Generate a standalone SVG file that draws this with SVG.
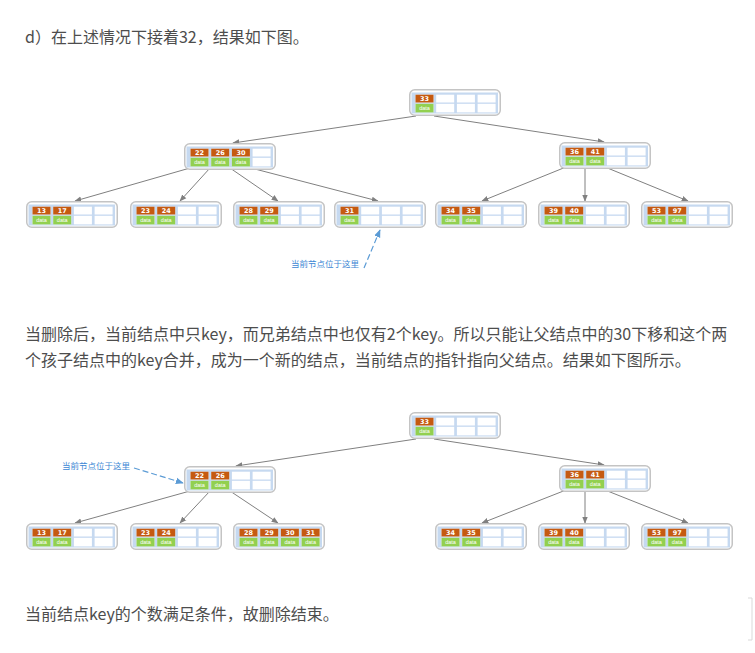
<svg xmlns="http://www.w3.org/2000/svg" xmlns:xlink="http://www.w3.org/1999/xlink" width="755" height="653" viewBox="0 0 755 653">
<style>
.p{font-family:"Noto Sans CJK SC","Liberation Sans",sans-serif;font-size:16px;fill:#4d4d4d}
.k{fill:#c55a11}
.d{fill:#92d050}
.kt{font-family:"DejaVu Sans",sans-serif;font-size:6.5px;font-weight:bold;fill:#fff;text-anchor:middle}
.dt{font-family:"Liberation Sans",sans-serif;font-size:5.5px;fill:#fff;text-anchor:middle}
.c{stroke:#808080;stroke-width:1;fill:none;marker-end:url(#ah)}
.an{font-family:"Noto Sans CJK SC",sans-serif;font-size:8.5px;fill:#3b86d4}
.dash{stroke:#5b9bd5;stroke-width:1.2;stroke-dasharray:6 3;fill:none;marker-end:url(#bh)}
</style>
<defs>
<marker id="ah" viewBox="0 0 10 10" refX="9" refY="5" markerWidth="7" markerHeight="7" orient="auto" markerUnits="userSpaceOnUse">
<path d="M0,1 L10,5 L0,9 z" fill="#808080"/>
</marker>
<marker id="bh" viewBox="0 0 10 10" refX="9" refY="5" markerWidth="8" markerHeight="8" orient="auto" markerUnits="userSpaceOnUse">
<path d="M0,1 L10,5 L0,9 z" fill="#5b9bd5"/>
</marker>
<g id="base">
<rect x="0.75" y="0.75" width="90.5" height="25.5" rx="5" fill="#fff" stroke="#c4c4c4" stroke-width="1.5"/>
<rect x="2.5" y="3.5" width="86.5" height="21" fill="#c6d9f0"/>
<g fill="#fff">
<rect x="6.5" y="5.7" width="18" height="7.8"/><rect x="6.5" y="14.8" width="18" height="8.6"/>
<rect x="27.2" y="5.7" width="18" height="7.8"/><rect x="27.2" y="14.8" width="18" height="8.6"/>
<rect x="47.9" y="5.7" width="18" height="7.8"/><rect x="47.9" y="14.8" width="18" height="8.6"/>
<rect x="68.6" y="5.7" width="18" height="7.8"/><rect x="68.6" y="14.8" width="18" height="8.6"/>
</g>
</g>
<g id="s0"><rect class="k" x="6.5" y="5.7" width="18" height="7.8"/><rect class="d" x="6.5" y="14.8" width="18" height="8.6"/><text class="dt" x="15.5" y="21.2">data</text></g>
<g id="s1"><rect class="k" x="27.2" y="5.7" width="18" height="7.8"/><rect class="d" x="27.2" y="14.8" width="18" height="8.6"/><text class="dt" x="36.2" y="21.2">data</text></g>
<g id="s2"><rect class="k" x="47.9" y="5.7" width="18" height="7.8"/><rect class="d" x="47.9" y="14.8" width="18" height="8.6"/><text class="dt" x="56.9" y="21.2">data</text></g>
<g id="s3"><rect class="k" x="68.6" y="5.7" width="18" height="7.8"/><rect class="d" x="68.6" y="14.8" width="18" height="8.6"/><text class="dt" x="77.6" y="21.2">data</text></g>
</defs>
<rect width="755" height="653" fill="#fff"/>

<text class="p" x="25" y="43">d）在上述情况下接着32，结果如下图。</text>

<!-- Tree 1 connectors -->
<g id="connectors1">
<line class="c" x1="416" y1="116" x2="233" y2="143"/>
<line class="c" x1="434" y1="116" x2="604" y2="142"/>
<line class="c" x1="190" y1="168" x2="75" y2="201"/>
<line class="c" x1="210" y1="168" x2="180" y2="201"/>
<line class="c" x1="230" y1="168" x2="278" y2="201"/>
<line class="c" x1="251" y1="168" x2="378" y2="201"/>
<line class="c" x1="566" y1="167" x2="482" y2="201"/>
<line class="c" x1="585" y1="167" x2="585" y2="201"/>
<line class="c" x1="605" y1="167" x2="688" y2="201"/>
</g>

<!-- Tree 1 nodes -->
<g id="t1-root" transform="translate(409,89)"><use href="#base"/><use href="#s0"/><text class="kt" x="15.5" y="12">33</text></g>
<g id="t1-n22" transform="translate(184,143)"><use href="#base"/><use href="#s0"/><use href="#s1"/><use href="#s2"/><text class="kt" x="15.5" y="12">22</text><text class="kt" x="36.2" y="12">26</text><text class="kt" x="56.9" y="12">30</text></g>
<g id="t1-n36" transform="translate(559,142)"><use href="#base"/><use href="#s0"/><use href="#s1"/><text class="kt" x="15.5" y="12">36</text><text class="kt" x="36.2" y="12">41</text></g>
<g id="t1-l13" transform="translate(26,201)"><use href="#base"/><use href="#s0"/><use href="#s1"/><text class="kt" x="15.5" y="12">13</text><text class="kt" x="36.2" y="12">17</text></g>
<g id="t1-l23" transform="translate(130,201)"><use href="#base"/><use href="#s0"/><use href="#s1"/><text class="kt" x="15.5" y="12">23</text><text class="kt" x="36.2" y="12">24</text></g>
<g id="t1-l28" transform="translate(233,201)"><use href="#base"/><use href="#s0"/><use href="#s1"/><text class="kt" x="15.5" y="12">28</text><text class="kt" x="36.2" y="12">29</text></g>
<g id="t1-l31" transform="translate(334,201)"><use href="#base"/><use href="#s0"/><text class="kt" x="15.5" y="12">31</text></g>
<g id="t1-l34" transform="translate(435,201)"><use href="#base"/><use href="#s0"/><use href="#s1"/><text class="kt" x="15.5" y="12">34</text><text class="kt" x="36.2" y="12">35</text></g>
<g id="t1-l39" transform="translate(538,201)"><use href="#base"/><use href="#s0"/><use href="#s1"/><text class="kt" x="15.5" y="12">39</text><text class="kt" x="36.2" y="12">40</text></g>
<g id="t1-l53" transform="translate(641,201)"><use href="#base"/><use href="#s0"/><use href="#s1"/><text class="kt" x="15.5" y="12">53</text><text class="kt" x="36.2" y="12">97</text></g>

<g id="t1-note">
<text class="an" x="291" y="267">当前节点位于这里</text>
<line class="dash" x1="364" y1="268" x2="380" y2="230"/>
</g>

<text class="p" x="25" y="340">当删除后，当前结点中只key，而兄弟结点中也仅有2个key。所以只能让父结点中的30下移和这个两</text>
<text class="p" x="25" y="366">个孩子结点中的key合并，成为一个新的结点，当前结点的指针指向父结点。结果如下图所示。</text>

<!-- Tree 2 connectors -->
<g id="connectors2">
<line class="c" x1="416" y1="439" x2="236" y2="466"/>
<line class="c" x1="434" y1="439" x2="604" y2="465"/>
<line class="c" x1="190" y1="491" x2="75" y2="523"/>
<line class="c" x1="210" y1="491" x2="180" y2="523"/>
<line class="c" x1="230" y1="491" x2="278" y2="523"/>
<line class="c" x1="566" y1="490" x2="482" y2="523"/>
<line class="c" x1="585" y1="490" x2="585" y2="523"/>
<line class="c" x1="605" y1="490" x2="688" y2="523"/>
</g>

<!-- Tree 2 nodes -->
<g id="t2-root" transform="translate(409,412)"><use href="#base"/><use href="#s0"/><text class="kt" x="15.5" y="12">33</text></g>
<g id="t2-n22" transform="translate(184,466)"><use href="#base"/><use href="#s0"/><use href="#s1"/><text class="kt" x="15.5" y="12">22</text><text class="kt" x="36.2" y="12">26</text></g>
<g id="t2-n36" transform="translate(559,465)"><use href="#base"/><use href="#s0"/><use href="#s1"/><text class="kt" x="15.5" y="12">36</text><text class="kt" x="36.2" y="12">41</text></g>
<g id="t2-l13" transform="translate(26,523)"><use href="#base"/><use href="#s0"/><use href="#s1"/><text class="kt" x="15.5" y="12">13</text><text class="kt" x="36.2" y="12">17</text></g>
<g id="t2-l23" transform="translate(130,523)"><use href="#base"/><use href="#s0"/><use href="#s1"/><text class="kt" x="15.5" y="12">23</text><text class="kt" x="36.2" y="12">24</text></g>
<g id="t2-l28" transform="translate(233,523)"><use href="#base"/><use href="#s0"/><use href="#s1"/><use href="#s2"/><use href="#s3"/><text class="kt" x="15.5" y="12">28</text><text class="kt" x="36.2" y="12">29</text><text class="kt" x="56.9" y="12">30</text><text class="kt" x="77.6" y="12">31</text></g>
<g id="t2-l34" transform="translate(435,523)"><use href="#base"/><use href="#s0"/><use href="#s1"/><text class="kt" x="15.5" y="12">34</text><text class="kt" x="36.2" y="12">35</text></g>
<g id="t2-l39" transform="translate(538,523)"><use href="#base"/><use href="#s0"/><use href="#s1"/><text class="kt" x="15.5" y="12">39</text><text class="kt" x="36.2" y="12">40</text></g>
<g id="t2-l53" transform="translate(641,523)"><use href="#base"/><use href="#s0"/><use href="#s1"/><text class="kt" x="15.5" y="12">53</text><text class="kt" x="36.2" y="12">97</text></g>

<g id="t2-note">
<text class="an" x="62" y="469">当前节点位于这里</text>
<line class="dash" x1="134" y1="468" x2="183" y2="483"/>
</g>

<text class="p" x="25" y="620">当前结点key的个数满足条件，故删除结束。</text>

<path d="M748,598 H752 V640 H748" fill="none" stroke="#d9d9d9" stroke-width="1"/>
</svg>
